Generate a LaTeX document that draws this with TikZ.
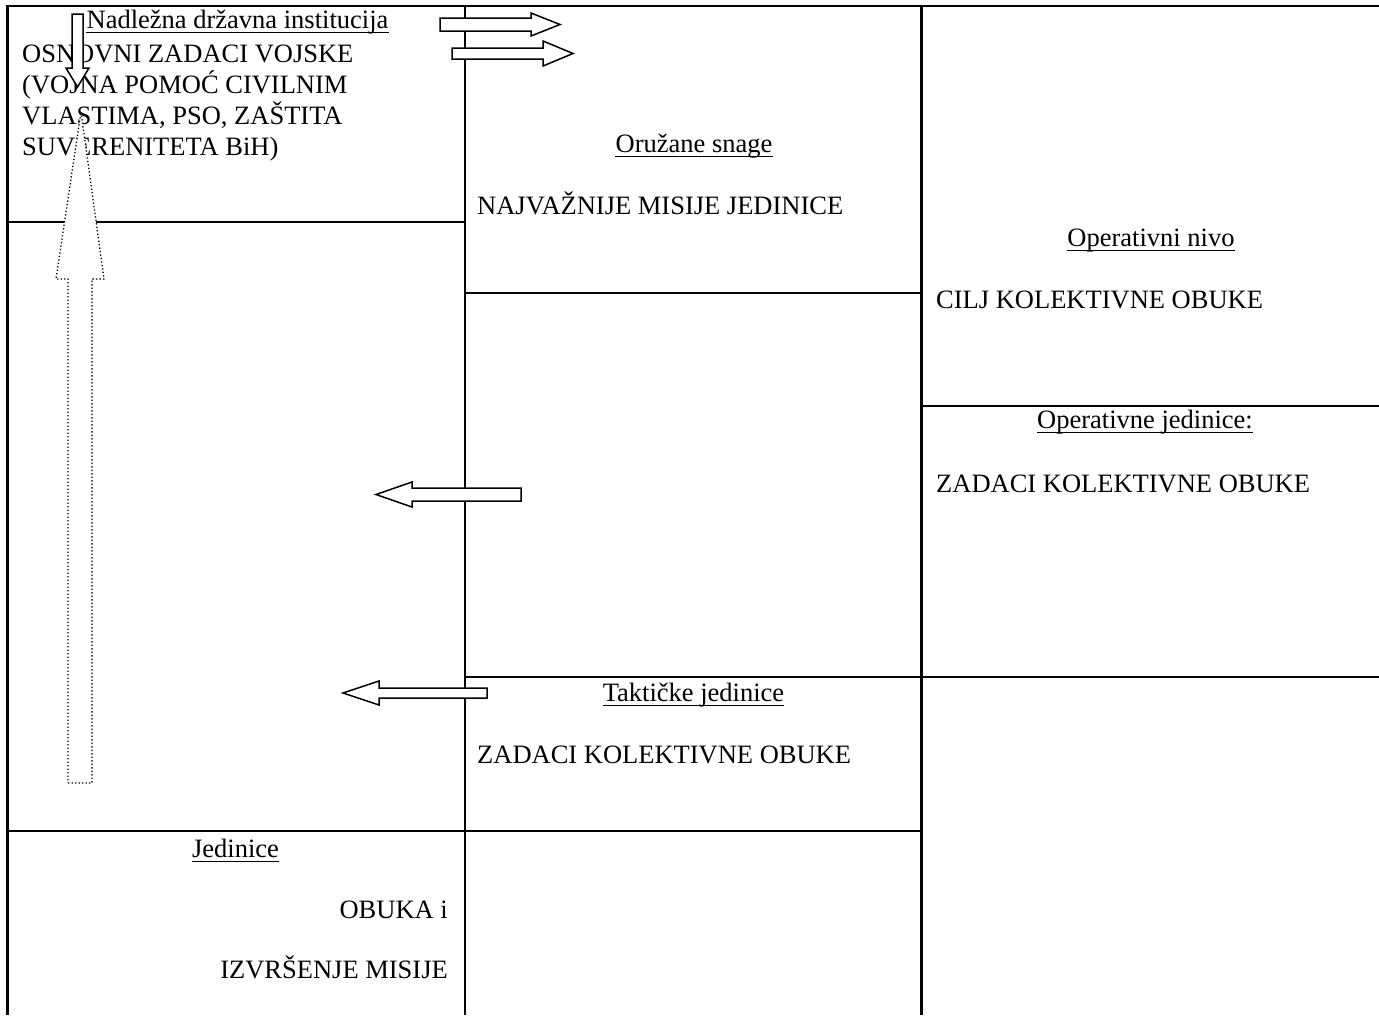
\documentclass[tikz,border=0pt]{standalone}
\usepackage{fontspec}
\setmainfont{Liberation Serif}
\begin{document}
\begin{tikzpicture}[x=1pt,y=-1pt,
  gridline/.style={line width=2.2pt},
  txt/.style={inner sep=0pt, font=\fontsize{26.5}{31}\selectfont},
  ulline/.style={line width=1.5pt},
  blockarrow/.style={draw=black, fill=white, line width=1.5pt, line join=miter},
  dotarrow/.style={draw=black, fill=white, line width=1.3pt, dash pattern=on 1.3pt off 2.2pt}]
\useasboundingbox (0,0) rectangle (1379,1015);
% table lines
\draw[gridline] (7.5,1015) -- (7.5,6) -- (1379,6);
\draw[gridline] (465,6) -- (465,1015);
\draw[gridline] (921.5,6) -- (921.5,1015);
\draw[gridline] (7.5,222) -- (465,222);
\draw[gridline] (465,293) -- (921.5,293);
\draw[gridline] (921.5,406) -- (1379,406);
\draw[gridline] (465,677) -- (1379,677);
\draw[gridline] (7.5,831) -- (921.5,831);
% texts
\node[txt, anchor=base] (nadl) at (237.5,28) {Nadležna državna institucija};
\node[txt, anchor=base west] (osn1) at (22,62) {OSNOVNI ZADACI VOJSKE};
\node[txt, anchor=base west] (osn2) at (22,93) {(VOJNA POMOĆ CIVILNIM};
\node[txt, anchor=base west] (osn3) at (22,124) {VLASTIMA, PSO, ZAŠTITA};
\node[txt, anchor=base west] (osn4) at (22,155) {SUVERENITETA BiH)};
\node[txt, anchor=base] (oruz) at (694,152) {Oružane snage};
\node[txt, anchor=base west] (najv) at (477,214) {NAJVAŽNIJE MISIJE JEDINICE};
\node[txt, anchor=base] (opniv) at (1151,246) {Operativni nivo};
\node[txt, anchor=base west] (cilj) at (936,308) {CILJ KOLEKTIVNE OBUKE};
\node[txt, anchor=base] (opjed) at (1145,428) {Operativne jedinice:};
\node[txt, anchor=base west] (zad1) at (936,492) {ZADACI KOLEKTIVNE OBUKE};
\node[txt, anchor=base] (takt) at (693.5,701) {Taktičke jedinice};
\node[txt, anchor=base west] (zad2) at (477,763) {ZADACI KOLEKTIVNE OBUKE};
\node[txt, anchor=base] (jed) at (235.5,857) {Jedinice};
\node[txt, anchor=base east] (obuka) at (448,918) {OBUKA i};
\node[txt, anchor=base east] (izvr) at (448,978) {IZVRŠENJE MISIJE};
\foreach \n in {nadl,oruz,opniv,opjed,takt,jed}
  \draw[ulline] ([yshift=-4.5pt]\n.base west) -- ([yshift=-4.5pt]\n.base east);
% block arrows
\draw[dotarrow] (68,783) -- (92,783) -- (92,279) -- (104,279) -- (81,112) -- (56,279) -- (68,279) -- cycle;
\draw[blockarrow] (72,14) -- (83,14) -- (83,68) -- (89,68) -- (77.5,87) -- (66,68) -- (72,68) -- cycle;
\draw[blockarrow] (440,18) -- (531,18) -- (531,13) -- (560,24.5) -- (531,36) -- (531,31) -- (440,31) -- cycle;
\draw[blockarrow] (452,48) -- (543,48) -- (543,41) -- (573,53.5) -- (543,66) -- (543,59) -- (452,59) -- cycle;
\draw[blockarrow] (521,488) -- (412,488) -- (412,482) -- (376,494.5) -- (412,507) -- (412,501) -- (521,501) -- cycle;
\draw[blockarrow] (487,688) -- (379,688) -- (379,681) -- (343,693) -- (379,705) -- (379,698) -- (487,698) -- cycle;
\end{tikzpicture}
\end{document}
